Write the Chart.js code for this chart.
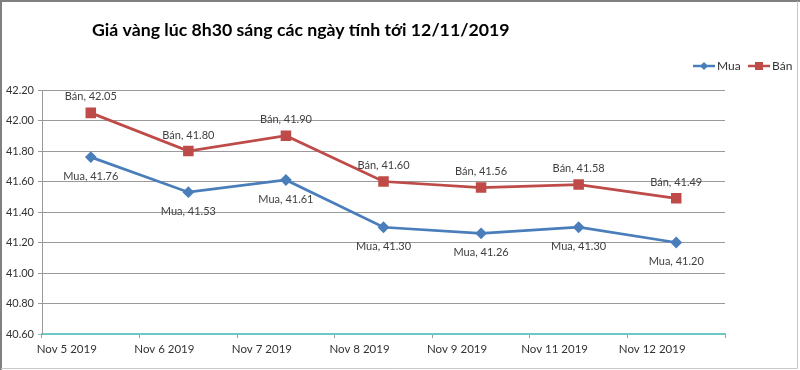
<!DOCTYPE html>
<html>
<head>
<meta charset="utf-8">
<script src="https://cdn.jsdelivr.net/npm/chart.js@4.4.1/dist/chart.umd.min.js"></script>
<style>
html,body{margin:0;padding:0;background:#fff;}
#wrap{width:800px;height:370px;position:relative;}
</style>
</head>
<body>
<div id="wrap"><canvas id="c" width="800" height="370"></canvas></div>
<script>
const titleText = "Giá vàng lúc 8h30 sáng các ngày tính tới 12/11/2019";
const categories = ["Nov 5 2019","Nov 6 2019","Nov 7 2019","Nov 8 2019","Nov 9 2019","Nov 11 2019","Nov 12 2019"];
const muaValues = [41.76, 41.53, 41.61, 41.30, 41.26, 41.30, 41.20];
const banValues = [42.05, 41.80, 41.90, 41.60, 41.56, 41.58, 41.49];
const seriesNames = ["Mua", "Bán"];
const yTicks = [40.60, 40.80, 41.00, 41.20, 41.40, 41.60, 41.80, 42.00, 42.20];

const FONT = "Lato, 'Open Sans', sans-serif";
const BLUE = "#4a7ebb";
const RED = "#be4b48";
const TEAL = "#6cc7c7";
const GRID = "#9a9a9a";

const framePlugin = {
  id: 'frame',
  beforeDraw(chart) {
    const ctx = chart.ctx;
    ctx.save();
    ctx.fillStyle = '#fff';
    ctx.fillRect(0, 0, chart.width, chart.height);
    ctx.restore();
  },
  afterDraw(chart) {
    const ctx = chart.ctx;
    ctx.save();
    ctx.strokeStyle = '#808080';
    ctx.lineWidth = 2;
    ctx.beginPath();
    ctx.moveTo(1, chart.height);
    ctx.lineTo(1, 1);
    ctx.lineTo(chart.width, 1);
    ctx.stroke();
    ctx.strokeStyle = '#c8c8c8';
    ctx.lineWidth = 1;
    ctx.beginPath();
    ctx.moveTo(797.5, 1);
    ctx.lineTo(797.5, 368.5);
    ctx.lineTo(1, 368.5);
    ctx.stroke();
    // title
    ctx.fillStyle = '#000';
    ctx.font = "bold 17.7px " + FONT;
    ctx.textBaseline = 'middle';
    ctx.textAlign = 'left';
    ctx.fillText(titleText, 92, 30);
    // legend
    const items = [
      {name: seriesNames[0], color: BLUE, style: 'diamond', x: 693},
      {name: seriesNames[1], color: RED, style: 'square', x: 748}
    ];
    ctx.font = "12px " + FONT;
    items.forEach(it => {
      const y = 66;
      ctx.strokeStyle = it.color;
      ctx.lineWidth = 2.5;
      ctx.beginPath();
      ctx.moveTo(it.x, y);
      ctx.lineTo(it.x + 22, y);
      ctx.stroke();
      ctx.fillStyle = it.color;
      const cx = it.x + 11;
      if (it.style === 'diamond') {
        ctx.beginPath();
        ctx.moveTo(cx, y - 4); ctx.lineTo(cx + 4, y); ctx.lineTo(cx, y + 4); ctx.lineTo(cx - 4, y);
        ctx.closePath(); ctx.fill();
      } else {
        ctx.fillRect(cx - 4, y - 4, 8, 8);
      }
      ctx.fillStyle = '#333';
      ctx.fillText(it.name, it.x + 24, y);
    });
    // data labels
    ctx.font = "11px " + FONT;
    ctx.fillStyle = '#404040';
    ctx.textAlign = 'center';
    chart.data.datasets.forEach((ds, di) => {
      const meta = chart.getDatasetMeta(di);
      meta.data.forEach((pt, i) => {
        const txt = ds.label + ", " + ds.data[i].toFixed(2);
        const dy = di === 0 ? 19 : -16;
        ctx.fillText(txt, pt.x, pt.y + dy);
      });
    });
    ctx.restore();
  }
};

new Chart(document.getElementById('c'), {
  type: 'line',
  data: {
    labels: categories,
    datasets: [
      {label: seriesNames[0], data: muaValues, borderColor: BLUE, backgroundColor: BLUE, borderWidth: 2.75,
       pointStyle: 'rectRot', pointRadius: 4, pointHoverRadius: 4, tension: 0},
      {label: seriesNames[1], data: banValues, borderColor: RED, backgroundColor: RED, borderWidth: 2.75,
       pointStyle: 'rect', pointRadius: 5.5, pointHoverRadius: 5.5, tension: 0}
    ]
  },
  options: {
    responsive: false,
    animation: false,
    events: [],
    layout: {padding: {top: 90, right: 75, bottom: 0, left: 0}},
    plugins: {
      legend: {display: false},
      title: {display: false},
      tooltip: {enabled: false}
    },
    scales: {
      x: {
        offset: true,
        grid: {offset: true, drawOnChartArea: false, drawTicks: true, tickLength: 4, color: GRID},
        border: {color: TEAL, width: 1.5},
        ticks: {font: {family: FONT, size: 11.5}, color: '#333', labelOffset: -24, padding: 4, maxRotation: 0, autoSkip: false},
        afterFit(axis) { axis.height = 36; }
      },
      y: {
        min: 40.6, max: 42.2,
        afterBuildTicks(axis) { axis.ticks = yTicks.map(v => ({value: v})); },
        grid: {color: (c) => c.tick && Math.abs(c.tick.value - 40.6) < 1e-6 ? TEAL : GRID, tickLength: 4, lineWidth: 1},
        border: {color: GRID, width: 1},
        ticks: {font: {family: FONT, size: 11}, color: '#333', padding: 4, callback: (v) => Number(v).toFixed(2)},
        afterFit(axis) { axis.width = 42; }
      }
    }
  },
  plugins: [framePlugin]
});
</script>
</body>
</html>
